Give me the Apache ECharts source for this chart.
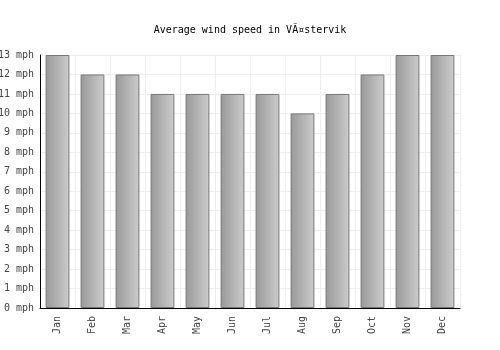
<!DOCTYPE html>
<html lang="en">
<head>
  <meta charset="UTF-8">
  <title>Document</title>
  <script src="https://cdn.jsdelivr.net/npm/echarts@6/dist/echarts.min.js"></script>
</head>
<body style="margin:0">
  <div id="main" style="width: 500px;height:350px;"></div>
<script type="text/javascript">
  var months = ['Jan', 'Feb', 'Mar', 'Apr', 'May', 'Jun', 'Jul', 'Aug', 'Sep', 'Oct', 'Nov', 'Dec'];
  var windSpeed = [13, 12, 12, 11, 11, 11, 11, 10, 11, 12, 13, 13];

  var app = echarts.init(document.getElementById('main'));
  var font = 'DejaVu Sans Mono';

  var option = {
    animation: false,
    title: {
      text: 'Average wind speed in VÃ¤stervik',
      left: 'center',
      top: 20,
      textStyle: { fontFamily: font, fontSize: 10, fontWeight: 'normal', color: '#000' }
    },
    grid: { left: 40, right: 40, top: 55, bottom: 42, outerBoundsMode: 'none' },
    xAxis: {
      type: 'category',
      data: months,
      axisLine: { lineStyle: { color: '#000', width: 1 } },
      axisTick: { show: false },
      axisLabel: { rotate: 90, fontFamily: font, fontSize: 10, color: '#444', margin: 8 },
      splitLine: { show: true, lineStyle: { color: '#eee' } }
    },
    yAxis: {
      type: 'value',
      min: 0,
      max: 13,
      interval: 1,
      axisLine: { show: true, lineStyle: { color: '#000', width: 1 } },
      axisTick: { show: false },
      axisLabel: { formatter: '{value} mph', fontFamily: font, fontSize: 10, color: '#444', margin: 6 },
      splitLine: { lineStyle: { color: '#eee' } }
    },
    series: [{
      type: 'bar',
      data: windSpeed,
      barWidth: '68%',
      itemStyle: {
        borderColor: '#777',
        borderWidth: 1,
        color: new echarts.graphic.LinearGradient(0, 0, 1, 0, [
          { offset: 0, color: '#999' },
          { offset: 1, color: '#ccc' }
        ])
      }
    }]
  };
  app.setOption(option);
</script>
</body>
</html>
